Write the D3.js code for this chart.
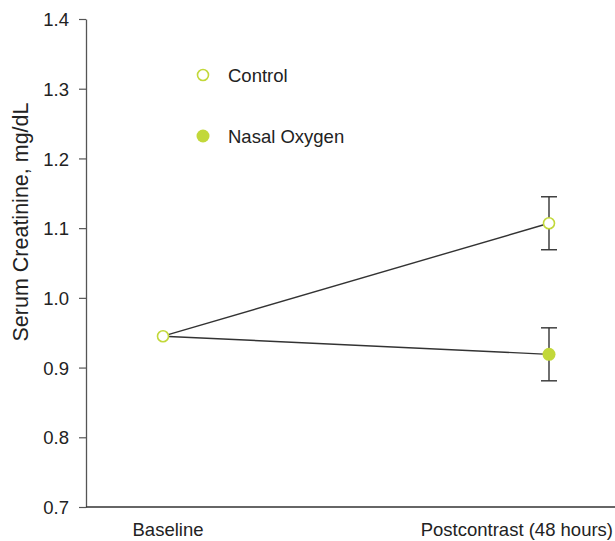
<!DOCTYPE html>
<html><head><meta charset="utf-8">
<script src="https://cdn.jsdelivr.net/npm/d3@7"></script>
<style>body{margin:0;background:#fff}svg{display:block}text{font-family:"Liberation Sans",Arial,sans-serif;fill:#222}</style>
</head><body>
<svg id="c" width="615" height="541"></svg>
<script>
const timepoints = ["Baseline", "Postcontrast (48 hours)"];
const controlMean = [0.945, 1.107];
const controlLow = [null, 1.069];
const controlHigh = [null, 1.145];
const nasalMean = [0.945, 0.919];
const nasalLow = [null, 0.881];
const nasalHigh = [null, 0.957];
const yTicks = [0.7, 0.8, 0.9, 1.0, 1.1, 1.2, 1.3, 1.4];
const seriesNames = ["Control", "Nasal Oxygen"];

const green = "#c2d83a";
const svg = d3.select("#c");
const y = d3.scaleLinear().domain([0.7, 1.4]).range([507, 19]);
const x = d3.scalePoint().domain(timepoints).range([163, 549]);

// y axis
const yAxis = svg.append("g").attr("transform", "translate(86,0)")
  .call(d3.axisLeft(y).tickValues(yTicks).tickFormat(d3.format(".1f")).tickSize(7).tickSizeOuter(0));
yAxis.select(".domain").attr("stroke", "#555").attr("stroke-width", 1.3);
yAxis.selectAll(".tick line").attr("stroke", "#555").attr("stroke-width", 1.2);
yAxis.selectAll(".tick text").attr("x", -17).attr("dy", "0.36em").style("font-size", "18.5px").style("font-family", "Liberation Sans, Arial, sans-serif").attr("fill", "#222");

// x axis line
svg.append("line").attr("x1", 86).attr("x2", 615).attr("y1", y(0.7)).attr("y2", y(0.7)).attr("stroke", "#333").attr("stroke-width", 1.3);
// x labels
timepoints.forEach((t, i) => {
  const tx = svg.append("text").attr("y", 536).style("font-size", "18.5px").text(t);
  if (i === 0) tx.attr("x", x(t) + 5).attr("text-anchor", "middle");
  else tx.attr("x", 613).attr("text-anchor", "end");
});

// y label
svg.append("text").attr("transform", `translate(28,222) rotate(-90)`).attr("text-anchor", "middle")
  .style("font-size", "21.5px").text("Serum Creatinine, mg/dL");

// lines
const line = d3.line().x((d, i) => x(timepoints[i])).y(d => y(d));
[controlMean, nasalMean].forEach(s => {
  svg.append("path").attr("d", line(s)).attr("fill", "none").attr("stroke", "#333").attr("stroke-width", 1.4);
});

// error bars
[[controlLow, controlHigh], [nasalLow, nasalHigh]].forEach(([lo, hi]) => {
  timepoints.forEach((t, i) => {
    if (lo[i] == null) return;
    const cx = x(t);
    const g = svg.append("g").attr("stroke", "#333").attr("stroke-width", 1.4);
    g.append("line").attr("x1", cx).attr("x2", cx).attr("y1", y(lo[i])).attr("y2", y(hi[i]));
    g.append("line").attr("x1", cx - 8).attr("x2", cx + 8).attr("y1", y(lo[i])).attr("y2", y(lo[i]));
    g.append("line").attr("x1", cx - 8).attr("x2", cx + 8).attr("y1", y(hi[i])).attr("y2", y(hi[i]));
  });
});

// markers
nasalMean.forEach((v, i) => {
  if (i === 0) return;
  svg.append("circle").attr("cx", x(timepoints[i])).attr("cy", y(v)).attr("r", 6.5).attr("fill", green);
});
controlMean.forEach((v, i) => {
  svg.append("circle").attr("cx", x(timepoints[i])).attr("cy", y(v)).attr("r", 5.5).attr("fill", "#fff").attr("stroke", green).attr("stroke-width", 1.6);
});

// legend
const leg = [[75, true], [136, false]];
seriesNames.forEach((n, i) => {
  const ly = leg[i][0];
  if (leg[i][1]) svg.append("circle").attr("cx", 203).attr("cy", ly).attr("r", 5.5).attr("fill", "#fff").attr("stroke", green).attr("stroke-width", 1.6);
  else svg.append("circle").attr("cx", 203).attr("cy", ly).attr("r", 6.5).attr("fill", green);
  svg.append("text").attr("x", 228).attr("y", ly).attr("dy", "0.36em").style("font-size", "18.5px").text(n);
});
</script>
</body></html>
